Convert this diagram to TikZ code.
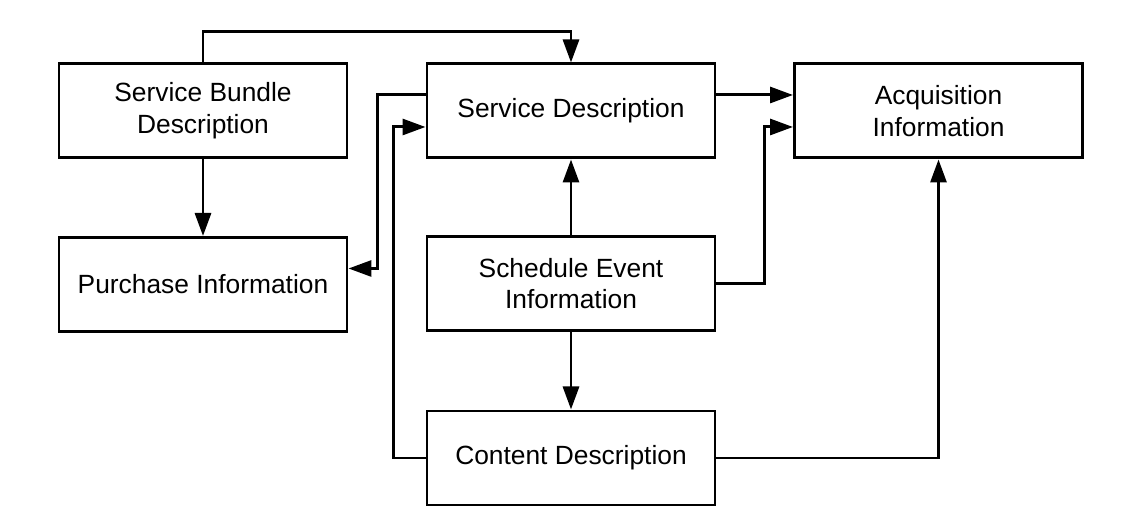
\documentclass[tikz,border=0pt]{standalone}
\usepackage{fontspec}
\setmainfont{Liberation Sans}
\usepackage{tikz}
\usetikzlibrary{arrows.meta, positioning, calc}

\begin{document}
\begin{tikzpicture}[>={Triangle[length=0.46cm, width=0.32cm]}, line width=1.7pt,
    font=\fontsize{15}{18}\selectfont,
    block/.style={draw, rectangle, minimum width=5.76cm, minimum height=1.88cm, align=center, inner sep=2pt}]

\useasboundingbox (0,0) rectangle (22.56,-10.52);

% ── BLOCKS ────────────────────────────────────────────────────────
\node[block] (bundle)   at (4.06, -2.22)  {Service Bundle\\Description};
\node[block] (purchase) at (4.06, -5.69)  {Purchase Information};
\node[block] (servdesc) at (11.42, -2.22) {Service Description};
\node[block] (acq)      at (18.77, -2.22) {Acquisition\\Information};
\node[block] (sched)    at (11.42, -5.67) {Schedule Event\\Information};
\node[block] (content)  at (11.42, -9.16) {Content Description};

% ── LINKS ─────────────────────────────────────────────────────────
\draw[->] (bundle.north) -- ++(0, 0.62) -| (servdesc.north);
\draw[->] (bundle) -- (purchase);
\draw[->] ([yshift=0.32cm]servdesc.east) -- ([yshift=0.32cm]acq.west);
\draw[->] (sched.east) -- ++(0.96, 0) |- ([yshift=-0.32cm]acq.west);
\draw[->] (sched) -- (servdesc);
\draw[->] (sched) -- (content);
\draw[->] (content.east) -| (acq.south);

% Left side feedback lines
\draw[->] (content.west) -- ++(-0.64, 0) |- ([yshift=-0.32cm]servdesc.west);
\draw[->] ([yshift=0.32cm]servdesc.west) -- ++(-0.96, 0) |- ([yshift=0.32cm]purchase.east);

\end{tikzpicture}
\end{document}
